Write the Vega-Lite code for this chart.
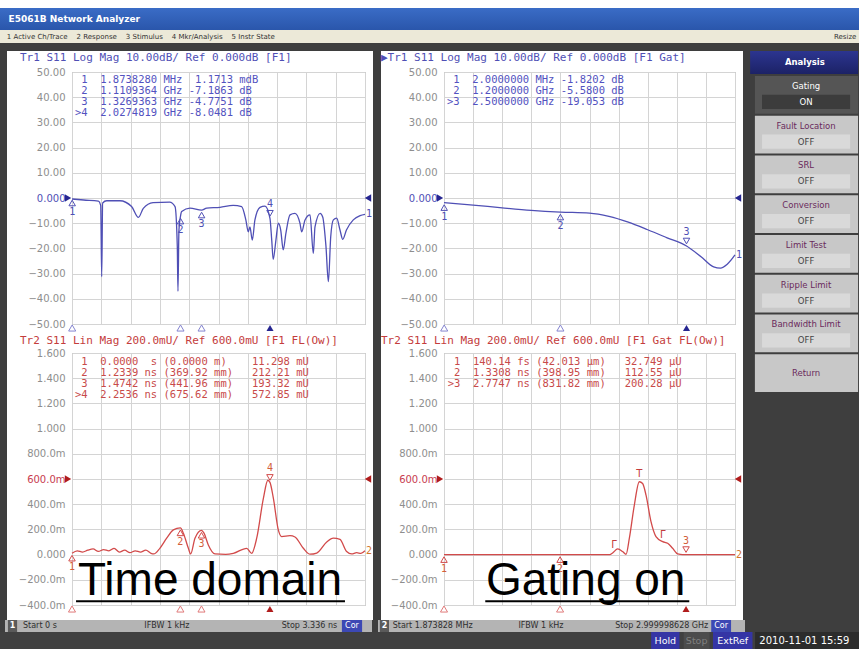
{
"$schema": "https://vega.github.io/schema/vega-lite/v6.json",
"background": "white",
"padding": 0,
"spacing": 0,
"config": {
  "view": {"stroke": null},
  "concat": {"spacing": 0},
  "axis": {"labelFont": "DejaVu Sans", "labelFontSize": 10, "labelPadding": 7, "labelFlush": false, "labelOverlap": false, "gridColor": "#d4d4d4", "labelColor": "#8e8e8e"},
  "title": {"fontWeight": "normal"},
  "point": {"opacity": 1}
},
"datasets": {
  "trTL": [{"x":0,"y":-0.4},{"x":0.12,"y":-0.8},{"x":0.27,"y":-1.2},{"x":0.294,"y":-3},{"x":0.304,"y":-31.2},{"x":0.314,"y":-2},{"x":0.355,"y":-1.1},{"x":0.49,"y":-1.1},{"x":0.61,"y":-3.4},{"x":0.68,"y":-7.7},{"x":0.73,"y":-4.1},{"x":0.83,"y":-1.8},{"x":1.0,"y":-1.6},{"x":1.055,"y":-3.4},{"x":1.078,"y":-19},{"x":1.085,"y":-37},{"x":1.095,"y":-12.7},{"x":1.111,"y":-7.2},{"x":1.123,"y":-5.4},{"x":1.208,"y":-4},{"x":1.327,"y":-4.8},{"x":1.379,"y":-4},{"x":1.515,"y":-3.7},{"x":1.65,"y":-2.9},{"x":1.737,"y":-3.4},{"x":1.78,"y":-8.7},{"x":1.805,"y":-13.4},{"x":1.822,"y":-11.5},{"x":1.846,"y":-16.7},{"x":1.873,"y":-8.7},{"x":1.925,"y":-3.7},{"x":1.976,"y":-3.2},{"x":2.027,"y":-8.05},{"x":2.045,"y":-16.7},{"x":2.06,"y":-24.3},{"x":2.088,"y":-16.7},{"x":2.112,"y":-10},{"x":2.137,"y":-12.7},{"x":2.163,"y":-20.6},{"x":2.19,"y":-14},{"x":2.232,"y":-6.7},{"x":2.283,"y":-6.1},{"x":2.334,"y":-10},{"x":2.352,"y":-13.4},{"x":2.386,"y":-8.7},{"x":2.437,"y":-6.7},{"x":2.471,"y":-22},{"x":2.488,"y":-11.5},{"x":2.54,"y":-6.1},{"x":2.567,"y":-7.5},{"x":2.6,"y":-19},{"x":2.625,"y":-33.2},{"x":2.649,"y":-15.4},{"x":2.676,"y":-8.7},{"x":2.71,"y":-8},{"x":2.744,"y":-12.7},{"x":2.772,"y":-16.4},{"x":2.81,"y":-12.7},{"x":2.88,"y":-8.7},{"x":2.95,"y":-7},{"x":3,"y":-6.5}],
  "trTR": [{"x":0,"y":-1.8},{"x":0.3,"y":-2.8},{"x":0.6,"y":-3.9},{"x":0.9,"y":-4.9},{"x":1.2,"y":-5.58},{"x":1.5,"y":-6.0},{"x":1.7,"y":-7.3},{"x":1.9,"y":-9.6},{"x":2.1,"y":-12.6},{"x":2.3,"y":-15.8},{"x":2.5,"y":-19.05},{"x":2.65,"y":-23.3},{"x":2.78,"y":-27.3},{"x":2.85,"y":-27.8},{"x":2.92,"y":-26.3},{"x":3,"y":-22.6}],
  "trBL": [{"x":0,"y":0.011},{"x":0.06,"y":0.03},{"x":0.12,"y":0.02},{"x":0.18,"y":0.035},{"x":0.24,"y":0.045},{"x":0.3,"y":0.025},{"x":0.36,"y":0.04},{"x":0.42,"y":0.03},{"x":0.48,"y":0.05},{"x":0.54,"y":0.02},{"x":0.6,"y":0.035},{"x":0.66,"y":0.015},{"x":0.72,"y":0.03},{"x":0.78,"y":0.02},{"x":0.84,"y":0.035},{"x":0.9,"y":0.01},{"x":0.93,"y":0.005},{"x":1.0,"y":0.05},{"x":1.078,"y":0.13},{"x":1.154,"y":0.196},{"x":1.234,"y":0.212},{"x":1.268,"y":0.17},{"x":1.325,"y":0.05},{"x":1.351,"y":0.005},{"x":1.4,"y":0.13},{"x":1.474,"y":0.193},{"x":1.503,"y":0.17},{"x":1.552,"y":0.077},{"x":1.628,"y":0.005},{"x":1.75,"y":0.002},{"x":1.837,"y":0.01},{"x":1.989,"y":0.05},{"x":2.046,"y":0.01},{"x":2.103,"y":0.13},{"x":2.179,"y":0.446},{"x":2.23,"y":0.59},{"x":2.254,"y":0.573},{"x":2.292,"y":0.45},{"x":2.349,"y":0.196},{"x":2.387,"y":0.143},{"x":2.482,"y":0.15},{"x":2.539,"y":0.14},{"x":2.634,"y":0.05},{"x":2.71,"y":0.003},{"x":2.786,"y":0.012},{"x":2.9,"y":0.1},{"x":2.975,"y":0.13},{"x":3.051,"y":0.12},{"x":3.127,"y":0.024},{"x":3.184,"y":0.005},{"x":3.241,"y":0.015},{"x":3.29,"y":0.01},{"x":3.336,"y":0.03}],
  "trBR": [{"x":0,"y":0.00003},{"x":1.9,"y":0.0002},{"x":1.933,"y":0.013},{"x":1.991,"y":0.045},{"x":2.048,"y":0.024},{"x":2.087,"y":0.002},{"x":2.125,"y":0.13},{"x":2.182,"y":0.393},{"x":2.239,"y":0.578},{"x":2.277,"y":0.564},{"x":2.316,"y":0.472},{"x":2.373,"y":0.261},{"x":2.43,"y":0.143},{"x":2.507,"y":0.103},{"x":2.564,"y":0.09},{"x":2.621,"y":0.05},{"x":2.679,"y":0.005},{"x":2.736,"y":0.0002},{"x":3.336,"y":0.0002}],
  "mTL": [{"m":"1","x":0.0018738,"y":0.0012,"active":false},{"m":"2","x":1.1109364,"y":-7.1863,"active":false},{"m":"3","x":1.3269363,"y":-4.7751,"active":false},{"m":"4","x":2.0274819,"y":-8.0481,"active":true}],
  "mTR": [{"m":"1","x":0.002,"y":-1.8202,"active":false},{"m":"2","x":1.2,"y":-5.58,"active":false},{"m":"3","x":2.5,"y":-19.053,"active":true}],
  "mBL": [{"m":"1","x":0,"y":0.011298,"active":false},{"m":"2","x":1.2339,"y":0.21221,"active":false},{"m":"3","x":1.4742,"y":0.19332,"active":false},{"m":"4","x":2.2536,"y":0.57285,"active":true}],
  "mBR": [{"m":"1","x":0.00014,"y":0.0000327,"active":false},{"m":"2","x":1.3308,"y":0.0001126,"active":false},{"m":"3","x":2.7747,"y":0.0002003,"active":true}]
},
"vconcat": [
  {
    "width": 859, "height": 30,
    "data": {"values": [{"bar": "E5061B Network Analyzer"}]},
    "encoding": {"y": {"field": "bar", "type": "nominal", "axis": null, "scale": {"paddingInner": 0, "paddingOuter": 0.182, "align": 1}}},
    "layer": [
      {"mark": {"type": "rect", "color": {"gradient": "linear", "x1": 0, "y1": 0, "x2": 0, "y2": 1, "stops": [{"offset": 0, "color": "#3a6cc6"}, {"offset": 1, "color": "#2a56ab"}]}},
       "encoding": {"x": {"datum": 0, "type": "quantitative", "scale": {"domain": [0, 1]}, "axis": null}, "x2": {"datum": 1}}},
      {"mark": {"type": "text", "align": "left", "color": "white", "font": "DejaVu Sans", "fontWeight": "bold", "fontSize": 9},
       "encoding": {"x": {"datum": 0.01}, "text": {"field": "bar"}}}
    ]
  },
  {
    "width": 859, "height": 13,
    "view": {"fill": "#ece9d8"},
    "data": {"values": [{"menu": "1 Active Ch/Trace\u00a0\u00a0\u00a0\u00a02 Response\u00a0\u00a0\u00a0\u00a03 Stimulus\u00a0\u00a0\u00a0\u00a04 Mkr/Analysis\u00a0\u00a0\u00a0\u00a05 Instr State", "right": "Resize"}]},
    "layer": [
      {"mark": {"type": "text", "align": "left", "font": "DejaVu Sans", "fontSize": 7, "color": "#333333"},
       "encoding": {"x": {"datum": 0.008, "type": "quantitative", "scale": {"domain": [0, 1]}, "axis": null}, "text": {"field": "menu"}}},
      {"mark": {"type": "text", "align": "right", "font": "DejaVu Sans", "fontSize": 7, "color": "#333333"},
       "encoding": {"x": {"datum": 0.997}, "text": {"field": "right"}}}
    ]
  },
  {"width": 859, "height": 8, "data": {"values": []}, "mark": "rect", "encoding": {}, "view": {"fill": "#3e3e3e"}},
  {
    "spacing": 0,
    "hconcat": [
      {"width": 7, "height": 569, "data": {"values": []}, "mark": "rect", "encoding": {}, "view": {"fill": "#3e3e3e"}},
      {"width": 10, "height": 569, "data": {"values": []}, "mark": "rect", "encoding": {}},
      {
        "spacing": 0,
        "vconcat": [
          {"width": 293, "height": 15, "data": {"values": [{"t": "Tr1 S11 Log Mag 10.00dB/ Ref 0.000dB [F1]"}]},
           "mark": {"type": "text", "align": "left", "dx": -52, "dy": -1, "font": "DejaVu Sans Mono", "fontSize": 11, "color": "#4f4fb5"},
           "encoding": {"x": {"datum": 0, "type": "quantitative", "scale": {"domain": [0, 1]}, "axis": null}, "text": {"field": "t"}}},
          {
            "width": 293, "height": 252,
            "view": {"fill": "white", "stroke": "#9c9c9c"},
            "layer": [
              {"data": {"name": "trTL"}, "mark": {"type": "line", "interpolate": "monotone", "color": "#4f4fb5", "strokeWidth": 1.3},
               "encoding": {
                 "x": {"field": "x", "type": "quantitative", "title": null, "scale": {"domain": [0, 3], "nice": false, "zero": false}, "axis": {"values": [0,0.3,0.6,0.9,1.2,1.5,1.8,2.1,2.4,2.7,3], "tickCount": 11, "labels": false, "ticks": false, "domain": false, "title": null}},
                 "y": {"field": "y", "type": "quantitative", "title": null, "scale": {"domain": [-50, 50], "nice": false, "zero": false}, "axis": {"values": [-50,-40,-30,-20,-10,0,10,20,30,40,50], "tickCount": 11, "labelOverlap": false, "ticks": false, "domain": false, "title": null, "labelExpr": "datum.value == 0 ? '0.000' : format(datum.value, '.4r')", "labelColor": {"expr": "datum.value == 0 ? '#4f4fb5' : '#8e8e8e'"}}}
               }},
              {"data": {"name": "trTL"}, "transform": [{"filter": "datum.x >= 3"}], "mark": {"type": "text", "text": "1", "align": "left", "dx": 1, "font": "DejaVu Sans Mono", "fontSize": 10, "color": "#4f4fb5"},
               "encoding": {"x": {"field": "x", "type": "quantitative", "title": null}, "y": {"field": "y", "type": "quantitative", "title": null}}},
              {"data": {"name": "mTL"}, "transform": [{"filter": "!datum.active"}], "mark": {"type": "point", "shape": "triangle-up", "filled": false, "size": 42, "strokeWidth": 1, "color": "#4f4fb5", "yOffset": 5},
               "encoding": {"x": {"field": "x", "type": "quantitative", "title": null}, "y": {"field": "y", "type": "quantitative", "title": null}}},
              {"data": {"name": "mTL"}, "transform": [{"filter": "!datum.active"}], "mark": {"type": "text", "dy": 14, "font": "DejaVu Sans Mono", "fontSize": 10, "color": "#4f4fb5"},
               "encoding": {"x": {"field": "x", "type": "quantitative", "title": null}, "y": {"field": "y", "type": "quantitative", "title": null}, "text": {"field": "m"}}},
              {"data": {"name": "mTL"}, "transform": [{"filter": "datum.active"}], "mark": {"type": "point", "shape": "triangle-down", "filled": false, "size": 42, "strokeWidth": 1, "color": "#4f4fb5", "yOffset": -5},
               "encoding": {"x": {"field": "x", "type": "quantitative", "title": null}, "y": {"field": "y", "type": "quantitative", "title": null}}},
              {"data": {"name": "mTL"}, "transform": [{"filter": "datum.active"}], "mark": {"type": "text", "dy": -14, "font": "DejaVu Sans Mono", "fontSize": 10, "color": "#4f4fb5"},
               "encoding": {"x": {"field": "x", "type": "quantitative", "title": null}, "y": {"field": "y", "type": "quantitative", "title": null}, "text": {"field": "m"}}},
              {"data": {"name": "mTL"}, "transform": [{"filter": "!datum.active"}], "mark": {"type": "point", "shape": "triangle-up", "filled": false, "size": 50, "strokeWidth": 1, "color": "#8585d0", "yOffset": 4},
               "encoding": {"x": {"field": "x", "type": "quantitative", "title": null}, "y": {"datum": -50}}},
              {"data": {"name": "mTL"}, "transform": [{"filter": "datum.active"}], "mark": {"type": "point", "shape": "triangle-up", "filled": true, "size": 50, "color": "#262690", "yOffset": 4},
               "encoding": {"x": {"field": "x", "type": "quantitative", "title": null}, "y": {"datum": -50}}},
              {"data": {"values": [{"ref": 0}]}, "mark": {"type": "point", "shape": "triangle-right", "filled": true, "size": 55, "color": "#262690", "xOffset": -4},
               "encoding": {"x": {"datum": 0}, "y": {"field": "ref", "type": "quantitative", "title": null}}},
              {"data": {"values": [{"ref": 0}]}, "mark": {"type": "point", "shape": "triangle-left", "filled": true, "size": 55, "color": "#262690", "xOffset": 3},
               "encoding": {"x": {"datum": 3}, "y": {"field": "ref", "type": "quantitative", "title": null}}},
              {"data": {"values": [{"t": "\u200b\u00a01\u00a0\u00a01.8738280\u00a0MHz\u00a0\u00a01.1713\u00a0mdB\n\u200b\u00a02\u00a0\u00a01.1109364\u00a0GHz\u00a0-7.1863\u00a0dB\n\u200b\u00a03\u00a0\u00a01.3269363\u00a0GHz\u00a0-4.7751\u00a0dB\n>4\u00a0\u00a02.0274819\u00a0GHz\u00a0-8.0481\u00a0dB"}]},
               "mark": {"type": "text", "align": "left", "baseline": "top", "lineBreak": "\n", "font": "DejaVu Sans Mono", "fontSize": 10.5, "lineHeight": 11, "color": "#5252c0"},
               "encoding": {"x": {"datum": 0.03}, "y": {"datum": 49}, "text": {"field": "t"}}}
            ]
          },
          {"width": 293, "height": 13, "data": {"values": [{"t": "Tr2 S11 Lin Mag 200.0mU/ Ref 600.0mU [F1 FL(Ow)]"}]},
           "mark": {"type": "text", "align": "left", "dx": -52, "font": "DejaVu Sans Mono", "fontSize": 11, "color": "#c43c3c"},
           "encoding": {"x": {"datum": 0, "type": "quantitative", "scale": {"domain": [0, 1]}, "axis": null}, "text": {"field": "t"}}},
          {
            "width": 293, "height": 252,
            "view": {"fill": "white", "stroke": "#9c9c9c"},
            "layer": [
              {"data": {"name": "trBL"}, "mark": {"type": "line", "interpolate": "monotone", "color": "#d24a4a", "strokeWidth": 1.3},
               "encoding": {
                 "x": {"field": "x", "type": "quantitative", "title": null, "scale": {"domain": [0, 3.336], "nice": false, "zero": false}, "axis": {"values": [0,0.3336,0.6672,1.0008,1.3344,1.668,2.0016,2.3352,2.6688,3.0024,3.336], "tickCount": 11, "labels": false, "ticks": false, "domain": false, "title": null}},
                 "y": {"field": "y", "type": "quantitative", "title": null, "scale": {"domain": [-0.4, 1.6], "nice": false, "zero": false}, "axis": {"values": [-0.4,-0.2,0,0.2,0.4,0.6,0.8,1,1.2,1.4,1.6], "tickCount": 11, "labelOverlap": false, "ticks": false, "domain": false, "title": null, "labelExpr": "abs(datum.value) > 0.999 ? format(datum.value, '.3f') : (abs(datum.value) < 0.001 ? '0.000' : format(datum.value * 1000, '.1f') + 'm')", "labelColor": {"expr": "abs(datum.value - 0.6) < 0.001 ? '#c83c50' : '#8e8e8e'"}}}
               }},
              {"data": {"name": "trBL"}, "transform": [{"filter": "datum.x >= 3.336"}], "mark": {"type": "text", "text": "2", "align": "left", "dx": 1, "font": "DejaVu Sans Mono", "fontSize": 10, "color": "#d2752a"},
               "encoding": {"x": {"field": "x", "type": "quantitative", "title": null}, "y": {"field": "y", "type": "quantitative", "title": null}}},
              {"data": {"name": "mBL"}, "transform": [{"filter": "!datum.active"}], "mark": {"type": "point", "shape": "triangle-up", "filled": false, "size": 42, "strokeWidth": 1, "color": "#d24a4a", "yOffset": 5},
               "encoding": {"x": {"field": "x", "type": "quantitative", "title": null}, "y": {"field": "y", "type": "quantitative", "title": null}}},
              {"data": {"name": "mBL"}, "transform": [{"filter": "!datum.active"}], "mark": {"type": "text", "dy": 14, "font": "DejaVu Sans Mono", "fontSize": 10, "color": "#d2603a"},
               "encoding": {"x": {"field": "x", "type": "quantitative", "title": null}, "y": {"field": "y", "type": "quantitative", "title": null}, "text": {"field": "m"}}},
              {"data": {"name": "mBL"}, "transform": [{"filter": "datum.active"}], "mark": {"type": "point", "shape": "triangle-down", "filled": false, "size": 42, "strokeWidth": 1, "color": "#d24a4a", "yOffset": -5},
               "encoding": {"x": {"field": "x", "type": "quantitative", "title": null}, "y": {"field": "y", "type": "quantitative", "title": null}}},
              {"data": {"name": "mBL"}, "transform": [{"filter": "datum.active"}], "mark": {"type": "text", "dy": -14, "font": "DejaVu Sans Mono", "fontSize": 10, "color": "#d2603a"},
               "encoding": {"x": {"field": "x", "type": "quantitative", "title": null}, "y": {"field": "y", "type": "quantitative", "title": null}, "text": {"field": "m"}}},
              {"data": {"name": "mBL"}, "transform": [{"filter": "!datum.active"}], "mark": {"type": "point", "shape": "triangle-up", "filled": false, "size": 50, "strokeWidth": 1, "color": "#e07a7a", "yOffset": 4},
               "encoding": {"x": {"field": "x", "type": "quantitative", "title": null}, "y": {"datum": -0.4}}},
              {"data": {"name": "mBL"}, "transform": [{"filter": "datum.active"}], "mark": {"type": "point", "shape": "triangle-up", "filled": true, "size": 50, "color": "#b01c1c", "yOffset": 4},
               "encoding": {"x": {"field": "x", "type": "quantitative", "title": null}, "y": {"datum": -0.4}}},
              {"data": {"values": [{"ref": 0.6}]}, "mark": {"type": "point", "shape": "triangle-right", "filled": true, "size": 55, "color": "#b01c1c", "xOffset": -4},
               "encoding": {"x": {"datum": 0}, "y": {"field": "ref", "type": "quantitative", "title": null}}},
              {"data": {"values": [{"ref": 0.6}]}, "mark": {"type": "point", "shape": "triangle-left", "filled": true, "size": 55, "color": "#b01c1c", "xOffset": 3},
               "encoding": {"x": {"datum": 3.336}, "y": {"field": "ref", "type": "quantitative", "title": null}}},
              {"data": {"values": [{"t": "\u200b\u00a01\u00a0\u00a00.0000\u00a0\u00a0s\u00a0(0.0000\u00a0m)\u00a0\u00a0\u00a0\u00a011.298\u00a0mU\n\u200b\u00a02\u00a0\u00a01.2339\u00a0ns\u00a0(369.92\u00a0mm)\u00a0\u00a0\u00a0212.21\u00a0mU\n\u200b\u00a03\u00a0\u00a01.4742\u00a0ns\u00a0(441.96\u00a0mm)\u00a0\u00a0\u00a0193.32\u00a0mU\n>4\u00a0\u00a02.2536\u00a0ns\u00a0(675.62\u00a0mm)\u00a0\u00a0\u00a0572.85\u00a0mU"}]},
               "mark": {"type": "text", "align": "left", "baseline": "top", "lineBreak": "\n", "font": "DejaVu Sans Mono", "fontSize": 10.5, "lineHeight": 11, "color": "#c84a4a"},
               "encoding": {"x": {"datum": 0.034}, "y": {"datum": 1.57}, "text": {"field": "t"}}},
              {"data": {"values": [{"label": "Time domain"}]}, "mark": {"type": "text", "align": "left", "baseline": "alphabetic", "font": "Liberation Sans", "fontSize": 46, "color": "black"},
               "encoding": {"x": {"datum": 0.068}, "y": {"datum": -0.32}, "text": {"field": "label"}}},
              {"data": {"values": [{"label": "Time domain"}]}, "mark": {"type": "rule", "color": "black", "strokeWidth": 2},
               "encoding": {"x": {"datum": 0.046}, "x2": {"datum": 3.108}, "y": {"datum": -0.371}}}
            ]
          }
        ]
      },
      {"width": 8, "height": 569, "data": {"values": []}, "mark": "rect", "encoding": {}, "view": {"fill": "#3e3e3e"}},
      {
        "spacing": 0,
        "vconcat": [
          {"width": 291, "height": 15, "data": {"values": [{"t": "\u25b6Tr1 S11 Log Mag 10.00dB/ Ref 0.000dB [F1 Gat]"}]},
           "mark": {"type": "text", "align": "left", "dx": -63, "dy": -1, "font": "DejaVu Sans Mono", "fontSize": 11, "color": "#4f4fb5"},
           "encoding": {"x": {"datum": 0, "type": "quantitative", "scale": {"domain": [0, 1]}, "axis": null}, "text": {"field": "t"}}},
          {
            "width": 291, "height": 252,
            "view": {"fill": "white", "stroke": "#9c9c9c"},
            "layer": [
              {"data": {"name": "trTR"}, "mark": {"type": "line", "interpolate": "monotone", "color": "#4f4fb5", "strokeWidth": 1.3},
               "encoding": {
                 "x": {"field": "x", "type": "quantitative", "title": null, "scale": {"domain": [0, 3], "nice": false, "zero": false}, "axis": {"values": [0,0.3,0.6,0.9,1.2,1.5,1.8,2.1,2.4,2.7,3], "tickCount": 11, "labels": false, "ticks": false, "domain": false, "title": null}},
                 "y": {"field": "y", "type": "quantitative", "title": null, "scale": {"domain": [-50, 50], "nice": false, "zero": false}, "axis": {"values": [-50,-40,-30,-20,-10,0,10,20,30,40,50], "tickCount": 11, "labelOverlap": false, "ticks": false, "domain": false, "title": null, "labelExpr": "datum.value == 0 ? '0.000' : format(datum.value, '.4r')", "labelColor": {"expr": "datum.value == 0 ? '#4f4fb5' : '#8e8e8e'"}}}
               }},
              {"data": {"name": "trTR"}, "transform": [{"filter": "datum.x >= 3"}], "mark": {"type": "text", "text": "1", "align": "left", "dx": 1, "font": "DejaVu Sans Mono", "fontSize": 10, "color": "#4f4fb5"},
               "encoding": {"x": {"field": "x", "type": "quantitative", "title": null}, "y": {"field": "y", "type": "quantitative", "title": null}}},
              {"data": {"name": "mTR"}, "transform": [{"filter": "!datum.active"}], "mark": {"type": "point", "shape": "triangle-up", "filled": false, "size": 42, "strokeWidth": 1, "color": "#4f4fb5", "yOffset": 5},
               "encoding": {"x": {"field": "x", "type": "quantitative", "title": null}, "y": {"field": "y", "type": "quantitative", "title": null}}},
              {"data": {"name": "mTR"}, "transform": [{"filter": "!datum.active"}], "mark": {"type": "text", "dy": 14, "font": "DejaVu Sans Mono", "fontSize": 10, "color": "#4f4fb5"},
               "encoding": {"x": {"field": "x", "type": "quantitative", "title": null}, "y": {"field": "y", "type": "quantitative", "title": null}, "text": {"field": "m"}}},
              {"data": {"name": "mTR"}, "transform": [{"filter": "datum.active"}], "mark": {"type": "point", "shape": "triangle-down", "filled": false, "size": 42, "strokeWidth": 1, "color": "#4f4fb5", "yOffset": -5},
               "encoding": {"x": {"field": "x", "type": "quantitative", "title": null}, "y": {"field": "y", "type": "quantitative", "title": null}}},
              {"data": {"name": "mTR"}, "transform": [{"filter": "datum.active"}], "mark": {"type": "text", "dy": -14, "font": "DejaVu Sans Mono", "fontSize": 10, "color": "#4f4fb5"},
               "encoding": {"x": {"field": "x", "type": "quantitative", "title": null}, "y": {"field": "y", "type": "quantitative", "title": null}, "text": {"field": "m"}}},
              {"data": {"name": "mTR"}, "transform": [{"filter": "!datum.active"}], "mark": {"type": "point", "shape": "triangle-up", "filled": false, "size": 50, "strokeWidth": 1, "color": "#8585d0", "yOffset": 4},
               "encoding": {"x": {"field": "x", "type": "quantitative", "title": null}, "y": {"datum": -50}}},
              {"data": {"name": "mTR"}, "transform": [{"filter": "datum.active"}], "mark": {"type": "point", "shape": "triangle-up", "filled": true, "size": 50, "color": "#262690", "yOffset": 4},
               "encoding": {"x": {"field": "x", "type": "quantitative", "title": null}, "y": {"datum": -50}}},
              {"data": {"values": [{"ref": 0}]}, "mark": {"type": "point", "shape": "triangle-right", "filled": true, "size": 55, "color": "#262690", "xOffset": -4},
               "encoding": {"x": {"datum": 0}, "y": {"field": "ref", "type": "quantitative", "title": null}}},
              {"data": {"values": [{"ref": 0}]}, "mark": {"type": "point", "shape": "triangle-left", "filled": true, "size": 55, "color": "#262690", "xOffset": 3},
               "encoding": {"x": {"datum": 3}, "y": {"field": "ref", "type": "quantitative", "title": null}}},
              {"data": {"values": [{"t": "\u200b\u00a01\u00a0\u00a02.0000000\u00a0MHz\u00a0-1.8202\u00a0dB\n\u200b\u00a02\u00a0\u00a01.2000000\u00a0GHz\u00a0-5.5800\u00a0dB\n>3\u00a0\u00a02.5000000\u00a0GHz\u00a0-19.053\u00a0dB"}]},
               "mark": {"type": "text", "align": "left", "baseline": "top", "lineBreak": "\n", "font": "DejaVu Sans Mono", "fontSize": 10.5, "lineHeight": 11, "color": "#5252c0"},
               "encoding": {"x": {"datum": 0.03}, "y": {"datum": 49}, "text": {"field": "t"}}}
            ]
          },
          {"width": 291, "height": 13, "data": {"values": [{"t": "Tr2 S11 Lin Mag 200.0mU/ Ref 600.0mU [F1 Gat FL(Ow)]"}]},
           "mark": {"type": "text", "align": "left", "dx": -63, "font": "DejaVu Sans Mono", "fontSize": 11, "color": "#c43c3c"},
           "encoding": {"x": {"datum": 0, "type": "quantitative", "scale": {"domain": [0, 1]}, "axis": null}, "text": {"field": "t"}}},
          {
            "width": 291, "height": 252,
            "view": {"fill": "white", "stroke": "#9c9c9c"},
            "layer": [
              {"data": {"name": "trBR"}, "mark": {"type": "line", "interpolate": "monotone", "color": "#d24a4a", "strokeWidth": 1.3},
               "encoding": {
                 "x": {"field": "x", "type": "quantitative", "title": null, "scale": {"domain": [0, 3.336], "nice": false, "zero": false}, "axis": {"values": [0,0.3336,0.6672,1.0008,1.3344,1.668,2.0016,2.3352,2.6688,3.0024,3.336], "tickCount": 11, "labels": false, "ticks": false, "domain": false, "title": null}},
                 "y": {"field": "y", "type": "quantitative", "title": null, "scale": {"domain": [-0.4, 1.6], "nice": false, "zero": false}, "axis": {"values": [-0.4,-0.2,0,0.2,0.4,0.6,0.8,1,1.2,1.4,1.6], "tickCount": 11, "labelOverlap": false, "ticks": false, "domain": false, "title": null, "labelExpr": "abs(datum.value) > 0.999 ? format(datum.value, '.3f') : (abs(datum.value) < 0.001 ? '0.000' : format(datum.value * 1000, '.1f') + 'm')", "labelColor": {"expr": "abs(datum.value - 0.6) < 0.001 ? '#c83c50' : '#8e8e8e'"}}}
               }},
              {"data": {"name": "trBR"}, "transform": [{"filter": "datum.x >= 3.336"}], "mark": {"type": "text", "text": "2", "align": "left", "dx": 1, "font": "DejaVu Sans Mono", "fontSize": 10, "color": "#d2752a"},
               "encoding": {"x": {"field": "x", "type": "quantitative", "title": null}, "y": {"field": "y", "type": "quantitative", "title": null}}},
              {"data": {"name": "mBR"}, "transform": [{"filter": "!datum.active"}], "mark": {"type": "point", "shape": "triangle-up", "filled": false, "size": 42, "strokeWidth": 1, "color": "#d24a4a", "yOffset": 5},
               "encoding": {"x": {"field": "x", "type": "quantitative", "title": null}, "y": {"field": "y", "type": "quantitative", "title": null}}},
              {"data": {"name": "mBR"}, "transform": [{"filter": "!datum.active"}], "mark": {"type": "text", "dy": 14, "font": "DejaVu Sans Mono", "fontSize": 10, "color": "#d2603a"},
               "encoding": {"x": {"field": "x", "type": "quantitative", "title": null}, "y": {"field": "y", "type": "quantitative", "title": null}, "text": {"field": "m"}}},
              {"data": {"name": "mBR"}, "transform": [{"filter": "datum.active"}], "mark": {"type": "point", "shape": "triangle-down", "filled": false, "size": 42, "strokeWidth": 1, "color": "#d24a4a", "yOffset": -5},
               "encoding": {"x": {"field": "x", "type": "quantitative", "title": null}, "y": {"field": "y", "type": "quantitative", "title": null}}},
              {"data": {"name": "mBR"}, "transform": [{"filter": "datum.active"}], "mark": {"type": "text", "dy": -14, "font": "DejaVu Sans Mono", "fontSize": 10, "color": "#d2603a"},
               "encoding": {"x": {"field": "x", "type": "quantitative", "title": null}, "y": {"field": "y", "type": "quantitative", "title": null}, "text": {"field": "m"}}},
              {"data": {"name": "mBR"}, "transform": [{"filter": "!datum.active"}], "mark": {"type": "point", "shape": "triangle-up", "filled": false, "size": 50, "strokeWidth": 1, "color": "#e07a7a", "yOffset": 4},
               "encoding": {"x": {"field": "x", "type": "quantitative", "title": null}, "y": {"datum": -0.4}}},
              {"data": {"name": "mBR"}, "transform": [{"filter": "datum.active"}], "mark": {"type": "point", "shape": "triangle-up", "filled": true, "size": 50, "color": "#b01c1c", "yOffset": 4},
               "encoding": {"x": {"field": "x", "type": "quantitative", "title": null}, "y": {"datum": -0.4}}},
              {"data": {"values": [{"ref": 0.6}]}, "mark": {"type": "point", "shape": "triangle-right", "filled": true, "size": 55, "color": "#b01c1c", "xOffset": -4},
               "encoding": {"x": {"datum": 0}, "y": {"field": "ref", "type": "quantitative", "title": null}}},
              {"data": {"values": [{"ref": 0.6}]}, "mark": {"type": "point", "shape": "triangle-left", "filled": true, "size": 55, "color": "#b01c1c", "xOffset": 3},
               "encoding": {"x": {"datum": 3.336}, "y": {"field": "ref", "type": "quantitative", "title": null}}},
              {"data": {"values": [{"g": "\u0393", "x": 1.949, "y": 0.077}, {"g": "T", "x": 2.239, "y": 0.64}, {"g": "\u0393", "x": 2.507, "y": 0.156}]},
               "mark": {"type": "text", "font": "DejaVu Sans", "fontSize": 10, "color": "#c43c3c"},
               "encoding": {"x": {"field": "x", "type": "quantitative", "title": null}, "y": {"field": "y", "type": "quantitative", "title": null}, "text": {"field": "g"}}},
              {"data": {"values": [{"t": "\u200b\u00a01\u00a0\u00a0140.14\u00a0fs\u00a0(42.013\u00a0\u00b5m)\u00a0\u00a0\u00a032.749\u00a0\u00b5U\n\u200b\u00a02\u00a0\u00a01.3308\u00a0ns\u00a0(398.95\u00a0mm)\u00a0\u00a0\u00a0112.55\u00a0\u00b5U\n>3\u00a0\u00a02.7747\u00a0ns\u00a0(831.82\u00a0mm)\u00a0\u00a0\u00a0200.28\u00a0\u00b5U"}]},
               "mark": {"type": "text", "align": "left", "baseline": "top", "lineBreak": "\n", "font": "DejaVu Sans Mono", "fontSize": 10.5, "lineHeight": 11, "color": "#c84a4a"},
               "encoding": {"x": {"datum": 0.042}, "y": {"datum": 1.57}, "text": {"field": "t"}}},
              {"data": {"values": [{"label": "Gating on"}]}, "mark": {"type": "text", "align": "left", "baseline": "alphabetic", "font": "Liberation Sans", "fontSize": 46, "color": "black"},
               "encoding": {"x": {"datum": 0.481}, "y": {"datum": -0.318}, "text": {"field": "label"}}},
              {"data": {"values": [{"label": "Gating on"}]}, "mark": {"type": "rule", "color": "black", "strokeWidth": 2},
               "encoding": {"x": {"datum": 0.473}, "x2": {"datum": 2.812}, "y": {"datum": -0.371}}}
            ]
          }
        ]
      },
      {
        "spacing": 0,
        "vconcat": [
          {
            "width": 119, "height": 25,
            "view": {"fill": "#3e3e3e"},
            "data": {"values": [{"item": "Analysis"}]},
            "encoding": {"y": {"field": "item", "type": "nominal", "axis": null, "scale": {"paddingInner": 0, "paddingOuter": 0.0435, "align": 0}}},
            "layer": [
              {"mark": {"type": "rect", "color": {"gradient": "linear", "x1": 0, "y1": 0, "x2": 0, "y2": 1, "stops": [{"offset": 0, "color": "#2c3590"}, {"offset": 1, "color": "#1c2266"}]}},
               "encoding": {"x": {"datum": 0.06, "type": "quantitative", "scale": {"domain": [0, 1]}, "axis": null}, "x2": {"datum": 0.967}}},
              {"mark": {"type": "text", "color": "white", "font": "DejaVu Sans", "fontWeight": "bold", "fontSize": 8.5},
               "encoding": {"x": {"datum": 0.52}, "text": {"field": "item"}}}
            ]
          },
          {
            "width": 119, "height": 316,
            "view": {"fill": "#3e3e3e"},
            "data": {"values": [{"item": "Gating", "state": "ON"}, {"item": "Fault Location", "state": "OFF"}, {"item": "SRL", "state": "OFF"}, {"item": "Conversion", "state": "OFF"}, {"item": "Limit Test", "state": "OFF"}, {"item": "Ripple Limit", "state": "OFF"}, {"item": "Bandwidth Limit", "state": "OFF"}, {"item": "Return", "state": ""}]},
            "encoding": {"y": {"field": "item", "type": "nominal", "sort": null, "axis": null, "scale": {"paddingInner": 0.05, "paddingOuter": 0}}},
            "layer": [
              {"mark": {"type": "rect"},
               "encoding": {"x": {"datum": 0.1, "type": "quantitative", "scale": {"domain": [0, 1]}, "axis": null}, "x2": {"datum": 0.967},
                            "color": {"condition": {"test": "datum.state == 'ON'", "value": "#555555"}, "value": "#c8c8c8"}}},
              {"transform": [{"filter": "datum.state != ''"}], "mark": {"type": "bar", "height": {"band": 0.38}, "yOffset": 7},
               "encoding": {"x": {"datum": 0.16}, "x2": {"datum": 0.9},
                            "color": {"condition": {"test": "datum.state == 'ON'", "value": "#3c3c3c"}, "value": "#d9d9d9"}}},
              {"transform": [{"filter": "datum.state != ''"}], "mark": {"type": "text", "font": "DejaVu Sans", "fontSize": 8.5, "dy": -9},
               "encoding": {"x": {"datum": 0.53}, "text": {"field": "item"},
                            "color": {"condition": {"test": "datum.state == 'ON'", "value": "white"}, "value": "#6a2a5c"}}},
              {"transform": [{"filter": "datum.state != ''"}], "mark": {"type": "text", "font": "DejaVu Sans", "fontSize": 8.5, "dy": 7},
               "encoding": {"x": {"datum": 0.53}, "text": {"field": "state"},
                            "color": {"condition": {"test": "datum.state == 'ON'", "value": "white"}, "value": "#444444"}}},
              {"transform": [{"filter": "datum.state == ''"}], "mark": {"type": "text", "font": "DejaVu Sans", "fontSize": 8.5, "color": "#6a2a5c"},
               "encoding": {"x": {"datum": 0.53}, "text": {"field": "item"}}}
            ]
          },
          {"width": 119, "height": 228, "data": {"values": []}, "mark": "rect", "encoding": {}, "view": {"fill": "#3e3e3e"}}
        ]
      }
    ]
  },
  {
    "spacing": 0,
    "hconcat": [
      {"width": 5, "height": 12, "data": {"values": []}, "mark": "rect", "encoding": {}, "view": {"fill": "#3e3e3e"}},
      {
        "width": 367, "height": 12,
        "view": {"fill": "#b4b4b4"},
        "data": {"values": [{"ch": "1", "start": "Start 0 s", "ifbw": "IFBW 1 kHz", "stop": "Stop 3.336 ns", "cor": "Cor"}]},
        "layer": [
          {"mark": {"type": "rect", "color": "#5a5a5a"}, "encoding": {"x": {"datum": 0.008, "type": "quantitative", "scale": {"domain": [0, 1]}, "axis": null}, "x2": {"datum": 0.033}}},
          {"mark": {"type": "text", "color": "white", "font": "DejaVu Sans", "fontSize": 8, "fontWeight": "bold"}, "encoding": {"x": {"datum": 0.0205}, "text": {"field": "ch"}}},
          {"mark": {"type": "text", "align": "left", "color": "#2e2e2e", "font": "DejaVu Sans", "fontSize": 8}, "encoding": {"x": {"datum": 0.049}, "text": {"field": "start"}}},
          {"mark": {"type": "text", "color": "#2e2e2e", "font": "DejaVu Sans", "fontSize": 8}, "encoding": {"x": {"datum": 0.441}, "text": {"field": "ifbw"}}},
          {"mark": {"type": "text", "align": "right", "color": "#2e2e2e", "font": "DejaVu Sans", "fontSize": 8}, "encoding": {"x": {"datum": 0.905}, "text": {"field": "stop"}}},
          {"mark": {"type": "rect", "color": "#3c48b4"}, "encoding": {"x": {"datum": 0.918}, "x2": {"datum": 0.973}}},
          {"mark": {"type": "text", "color": "white", "font": "DejaVu Sans", "fontSize": 8}, "encoding": {"x": {"datum": 0.9455}, "text": {"field": "cor"}}}
        ]
      },
      {"width": 6, "height": 12, "data": {"values": []}, "mark": "rect", "encoding": {}, "view": {"fill": "#3e3e3e"}},
      {
        "width": 367, "height": 12,
        "view": {"fill": "#b4b4b4"},
        "data": {"values": [{"ch": "2", "start": "Start 1.873828 MHz", "ifbw": "IFBW 1 kHz", "stop": "Stop 2.999998628 GHz", "cor": "Cor"}]},
        "layer": [
          {"mark": {"type": "rect", "color": "#5a5a5a"}, "encoding": {"x": {"datum": 0.005, "type": "quantitative", "scale": {"domain": [0, 1]}, "axis": null}, "x2": {"datum": 0.03}}},
          {"mark": {"type": "text", "color": "white", "font": "DejaVu Sans", "fontSize": 8, "fontWeight": "bold"}, "encoding": {"x": {"datum": 0.0175}, "text": {"field": "ch"}}},
          {"mark": {"type": "text", "align": "left", "color": "#2e2e2e", "font": "DejaVu Sans", "fontSize": 8}, "encoding": {"x": {"datum": 0.04}, "text": {"field": "start"}}},
          {"mark": {"type": "text", "color": "#2e2e2e", "font": "DejaVu Sans", "fontSize": 8}, "encoding": {"x": {"datum": 0.444}, "text": {"field": "ifbw"}}},
          {"mark": {"type": "text", "align": "right", "color": "#2e2e2e", "font": "DejaVu Sans", "fontSize": 8}, "encoding": {"x": {"datum": 0.9}, "text": {"field": "stop"}}},
          {"mark": {"type": "rect", "color": "#3c48b4"}, "encoding": {"x": {"datum": 0.908}, "x2": {"datum": 0.962}}},
          {"mark": {"type": "text", "color": "white", "font": "DejaVu Sans", "fontSize": 8}, "encoding": {"x": {"datum": 0.935}, "text": {"field": "cor"}}}
        ]
      },
      {"width": 114, "height": 12, "data": {"values": []}, "mark": "rect", "encoding": {}, "view": {"fill": "#3e3e3e"}}
    ]
  },
  {
    "width": 859, "height": 17,
    "view": {"fill": "#404040"},
    "data": {"values": [{"hold": "Hold", "stop": "Stop", "ext": "ExtRef", "date": "2010-11-01 15:59"}]},
    "layer": [
      {"mark": {"type": "rect", "color": "#3535a5"}, "encoding": {"x": {"datum": 0.758, "type": "quantitative", "scale": {"domain": [0, 1]}, "axis": null}, "x2": {"datum": 0.791}}},
      {"mark": {"type": "text", "color": "white", "font": "DejaVu Sans", "fontSize": 9.5}, "encoding": {"x": {"datum": 0.7745}, "text": {"field": "hold"}}},
      {"mark": {"type": "rect", "color": "#4c4c4c"}, "encoding": {"x": {"datum": 0.796}, "x2": {"datum": 0.826}}},
      {"mark": {"type": "text", "color": "#808080", "font": "DejaVu Sans", "fontSize": 9.5}, "encoding": {"x": {"datum": 0.811}, "text": {"field": "stop"}}},
      {"mark": {"type": "rect", "color": "#3535a5"}, "encoding": {"x": {"datum": 0.83}, "x2": {"datum": 0.876}}},
      {"mark": {"type": "text", "color": "white", "font": "DejaVu Sans", "fontSize": 9.5}, "encoding": {"x": {"datum": 0.853}, "text": {"field": "ext"}}},
      {"mark": {"type": "rect", "color": "#2c2c2c"}, "encoding": {"x": {"datum": 0.879}, "x2": {"datum": 1}}},
      {"mark": {"type": "text", "align": "left", "color": "white", "font": "DejaVu Sans", "fontSize": 10}, "encoding": {"x": {"datum": 0.884}, "text": {"field": "date"}}}
    ]
  }
]
}
